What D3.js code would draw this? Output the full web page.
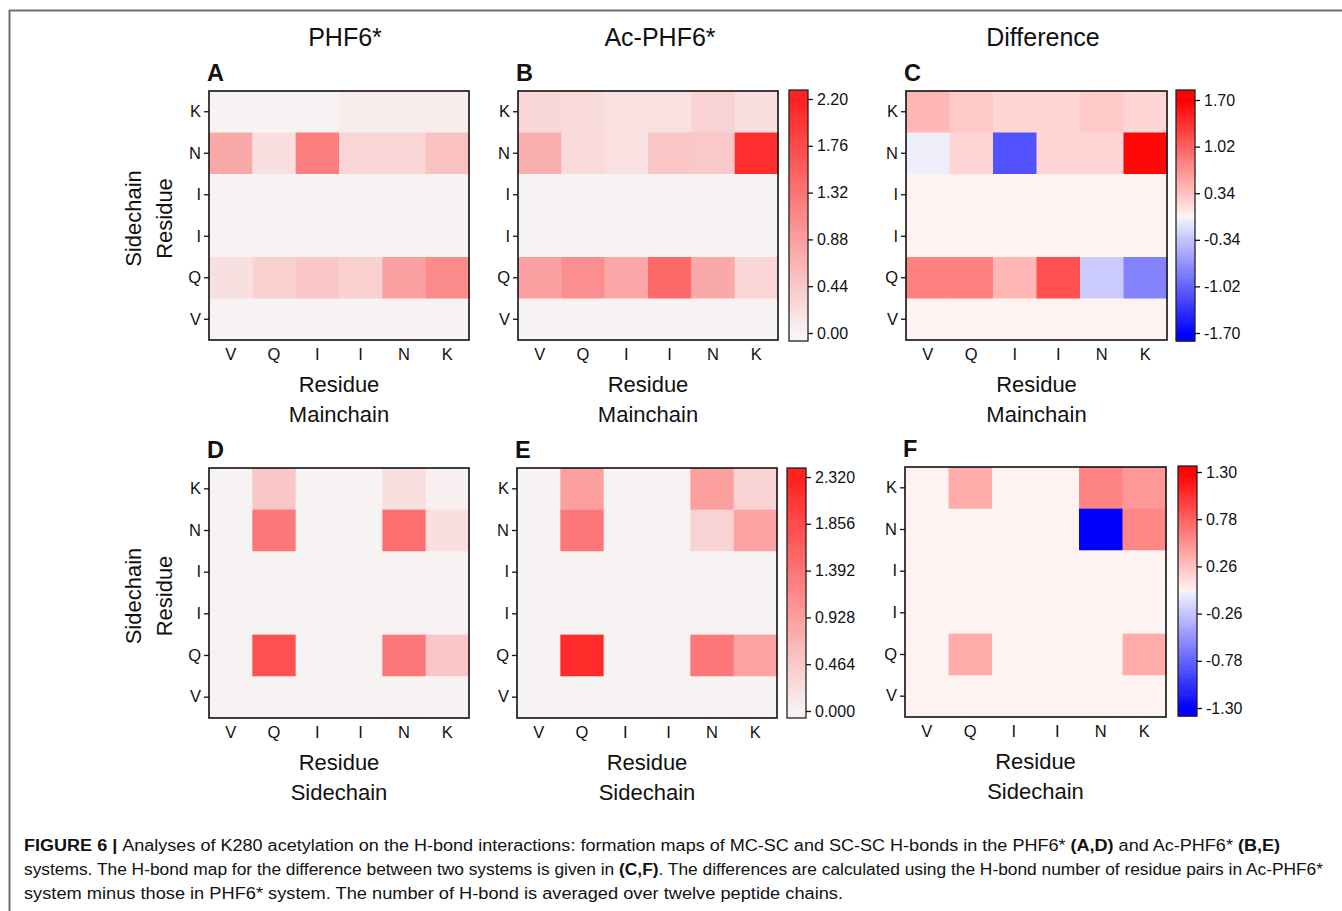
<!DOCTYPE html>
<html><head><meta charset="utf-8">
<script src="https://cdn.jsdelivr.net/npm/d3@7"></script>
<style>
html,body{margin:0;padding:0;background:#fff;}
svg{display:block;}
text{font-family:"Liberation Sans",Arial,Helvetica,sans-serif;fill:#111;}
</style></head>
<body>
<svg id="fig" width="1342" height="911"></svg>
<script>
// ---------------- DATA ----------------
const colLabels = ["V","Q","I","I","N","K"];          // x axis (left -> right)
const rowLabels = ["K","N","I","I","Q","V"];          // y axis (top -> bottom)
const titles = ["PHF6*","Ac-PHF6*","Difference"];
const panelLetters = ["A","B","C","D","E","F"];

// MC-SC H-bond maps (rows top->bottom: K,N,I,I,Q,V)
const mcscPHF6 = [
  [0,0,0,0.06,0.06,0.06],
  [0.77,0.21,1.22,0.31,0.31,0.52],
  [0,0,0,0,0,0],
  [0,0,0,0,0,0],
  [0.20,0.35,0.46,0.37,0.87,1.08],
  [0,0,0,0,0,0]
];
const mcscAcPHF6 = [
  [0.29,0.25,0.19,0.19,0.33,0.21],
  [0.71,0.27,0.19,0.48,0.44,2.05],
  [0,0,0,0,0,0],
  [0,0,0,0,0,0],
  [0.87,1.04,0.79,1.43,0.77,0.31],
  [0,0,0,0,0,0]
];
const mcscDiff = [
  [0.42,0.29,0.20,0.20,0.29,0.20],
  [-0.03,0.20,-1.13,0.20,0.20,1.65],
  [0,0,0,0,0,0],
  [0,0,0,0,0,0],
  [0.79,0.79,0.42,1.13,-0.29,-0.79],
  [0,0,0,0,0,0]
];
// SC-SC H-bond maps
const scscPHF6 = [
  [0,0.48,0,0,0.22,0.03],
  [0,1.36,0,0,1.44,0.22],
  [0,0,0,0,0,0],
  [0,0,0,0,0,0],
  [0,1.79,0,0,1.36,0.50],
  [0,0,0,0,0,0]
];
const scscAcPHF6 = [
  [0,0.92,0,0,0.92,0.35],
  [0,1.36,0,0,0.35,0.88],
  [0,0,0,0,0,0],
  [0,0,0,0,0,0],
  [0,2.21,0,0,1.36,0.88],
  [0,0,0,0,0,0]
];
const scscDiff = [
  [0,0.38,0,0,0.59,0.48],
  [0,0,0,0,-1.30,0.57],
  [0,0,0,0,0,0],
  [0,0,0,0,0,0],
  [0,0.38,0,0,0,0.38],
  [0,0,0,0,0,0]
];
// colour bar tick labels
const ticksB = ["0.00","0.44","0.88","1.32","1.76","2.20"];
const ticksC = ["-1.70","-1.02","-0.34","0.34","1.02","1.70"];
const ticksE = ["0.000","0.464","0.928","1.392","1.856","2.320"];
const ticksF = ["-1.30","-0.78","-0.26","0.26","0.78","1.30"];

// ---------------- SCALES / COLOURS ----------------
function seqScale(max){
  return d3.scaleLinear().domain([0,max]).range(["#f8f3f3","#ff2020"]).clamp(true);
}
function divScale(max){
  return d3.scaleLinear().domain([-max,-0.005,0,max])
    .range(["#0000ff","#f3f3fb","#fff3f1","#ff0000"]).clamp(true);
}
const seqTop = seqScale(+ticksB[ticksB.length-1]);
const seqBot = seqScale(+ticksE[ticksE.length-1]);
const divTop = divScale(+ticksC[ticksC.length-1]);
const divBot = divScale(+ticksF[ticksF.length-1]);

const svg = d3.select("#fig");
const FONT = "Liberation Sans, Arial, sans-serif";

// frame lines
svg.append("line").attr("x1",9).attr("y1",10.5).attr("x2",1342).attr("y2",10.5)
  .attr("stroke","#6e6e6e").attr("stroke-width",2);
svg.append("line").attr("x1",9.5).attr("y1",10).attr("x2",9.5).attr("y2",911)
  .attr("stroke","#6e6e6e").attr("stroke-width",2);

// ---------------- PANELS ----------------
const panels = [
  {data:mcscPHF6,   color:seqTop, x:209, y:91,  w:260, h:249, letter:0, xt:"Mainchain", ylab:true},
  {data:mcscAcPHF6, color:seqTop, x:518, y:91,  w:260, h:249, letter:1, xt:"Mainchain",
     cb:{x:789,y:90,w:19,h:251,ticks:ticksB,t0:333,t1:99}},
  {data:mcscDiff,   color:divTop, x:906, y:91,  w:261, h:249, letter:2, xt:"Mainchain",
     cb:{x:1176,y:90,w:19,h:251,ticks:ticksC,t0:333,t1:100}},
  {data:scscPHF6,   color:seqBot, x:209, y:468, w:260, h:250, letter:3, xt:"Sidechain", ylab:true},
  {data:scscAcPHF6, color:seqBot, x:517, y:468, w:260, h:250, letter:4, xt:"Sidechain",
     cb:{x:787,y:468,w:19,h:250,ticks:ticksE,t0:711,t1:477}},
  {data:scscDiff,   color:divBot, x:905, y:467, w:261, h:250, letter:5, xt:"Sidechain",
     cb:{x:1178,y:466,w:19,h:250,ticks:ticksF,t0:708,t1:472}}
];

panels.forEach(p=>{
  const g = svg.append("g").attr("transform",`translate(${p.x},${p.y})`);
  const xs = d3.scaleBand().domain(d3.range(colLabels.length)).range([0,p.w]);
  const ys = d3.scaleBand().domain(d3.range(rowLabels.length)).range([0,p.h]);
  const cells = [];
  p.data.forEach((row,ri)=>row.forEach((v,ci)=>cells.push({ri,ci,v})));
  g.selectAll("rect.cell").data(cells).join("rect").attr("class","cell")
    .attr("x",d=>xs(d.ci)).attr("y",d=>ys(d.ri))
    .attr("width",xs.bandwidth()+0.5).attr("height",ys.bandwidth()+0.5)
    .attr("fill",d=>p.color(d.v));
  g.append("rect").attr("x",0).attr("y",0).attr("width",p.w).attr("height",p.h)
    .attr("fill","none").attr("stroke","#111").attr("stroke-width",1.6);

  // y axis
  const ya = g.append("g").call(d3.axisLeft(ys).tickSize(5).tickPadding(3)
      .tickFormat(i=>rowLabels[i]));
  ya.select(".domain").remove();
  ya.selectAll("line").attr("stroke","#111").attr("stroke-width",1.3);
  ya.selectAll("text").attr("font-size",16.5).style("font-family",FONT).attr("fill","#111");
  // x axis (no tick marks)
  const xa = g.append("g").attr("transform",`translate(0,${p.h})`)
    .call(d3.axisBottom(xs).tickSize(0).tickPadding(8).tickFormat(i=>colLabels[i]));
  xa.select(".domain").remove();
  xa.selectAll("text").attr("font-size",16.5).style("font-family",FONT).attr("fill","#111");

  // axis titles
  g.append("text").attr("x",p.w/2).attr("y",p.h+52).attr("text-anchor","middle")
    .attr("font-size",22).text("Residue");
  g.append("text").attr("x",p.w/2).attr("y",p.h+82).attr("text-anchor","middle")
    .attr("font-size",22).text(p.xt);
  if(p.ylab){
    g.append("text").attr("transform",`translate(-68,${p.h/2+3}) rotate(-90)`)
      .attr("text-anchor","middle").attr("font-size",22).text("Sidechain");
    g.append("text").attr("transform",`translate(-37,${p.h/2+3}) rotate(-90)`)
      .attr("text-anchor","middle").attr("font-size",22).text("Residue");
  }
  // panel letter
  g.append("text").attr("x",-2).attr("y",-10).attr("font-size",23.5)
    .attr("font-weight","bold").text(panelLetters[p.letter]);

  // colour bar
  if(p.cb){
    const c = p.cb;
    const vmin = +c.ticks[0], vmax = +c.ticks[c.ticks.length-1];
    const cs = d3.scaleLinear().domain([vmin,vmax]).range([c.t0,c.t1]);
    const n = 120;
    const steps = d3.range(n).map(i=>{
      const y0 = c.y + c.h - (i+1)*c.h/n;
      return {y:y0, v:cs.invert(y0 + c.h/n/2)};
    });
    const cg = svg.append("g");
    cg.selectAll("rect").data(steps).join("rect")
      .attr("x",c.x).attr("y",d=>d.y).attr("width",c.w).attr("height",c.h/n+0.6)
      .attr("fill",d=>p.color(d.v));
    cg.append("rect").attr("x",c.x).attr("y",c.y).attr("width",c.w).attr("height",c.h)
      .attr("fill","none").attr("stroke","#222").attr("stroke-width",1.3);
    const ax = svg.append("g").attr("transform",`translate(${c.x+c.w},0)`)
      .call(d3.axisRight(cs).tickValues(c.ticks.map(Number)).tickSize(5).tickPadding(4)
        .tickFormat((d,i)=>c.ticks[i]));
    ax.select(".domain").remove();
    ax.selectAll("line").attr("stroke","#111").attr("stroke-width",1.3);
    ax.selectAll("text").attr("font-size",16).style("font-family",FONT).attr("fill","#111");
  }
});

// column titles
const titleX = [345, 660, 1043];
titles.forEach((t,i)=>{
  svg.append("text").attr("x",titleX[i]).attr("y",46).attr("text-anchor","middle")
    .attr("font-size",25).text(t);
});

// ---------------- CAPTION ----------------
const captionLines = [
  {y:851, len:1256, parts:[["FIGURE 6 | ",true],["Analyses of K280 acetylation on the H-bond interactions: formation maps of MC-SC and SC-SC H-bonds in the PHF6* ",false],["(A,D)",true],[" and Ac-PHF6* ",false],["(B,E)",true]]},
  {y:875, len:1299, parts:[["systems. The H-bond map for the difference between two systems is given in ",false],["(C,F)",true],[". The differences are calculated using the H-bond number of residue pairs in Ac-PHF6*",false]]},
  {y:899, len:819, parts:[["system minus those in PHF6* system. The number of H-bond is averaged over twelve peptide chains.",false]]}
];
captionLines.forEach(l=>{
  const t = svg.append("text").attr("x",24).attr("y",l.y).attr("font-size",16)
    .attr("textLength",l.len).attr("lengthAdjust","spacingAndGlyphs");
  l.parts.forEach(([s,b])=>{
    t.append("tspan").attr("font-weight",b?"bold":"normal").text(s);
  });
});
</script>
</body></html>
